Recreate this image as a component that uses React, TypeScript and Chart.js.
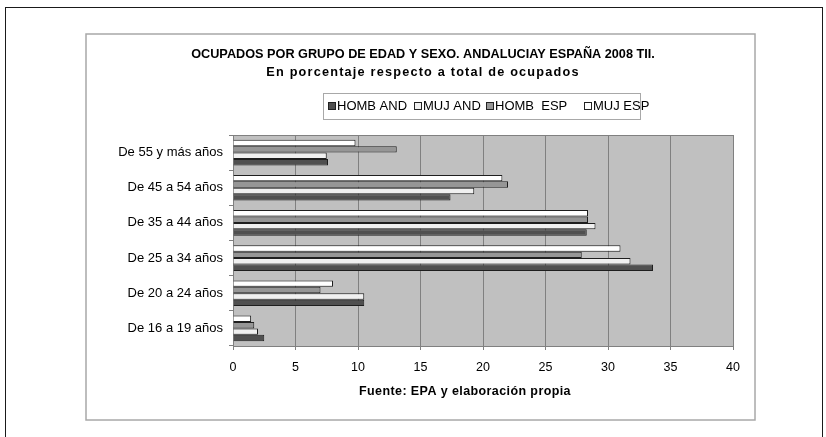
import React, { useEffect, useRef } from "react";
import { Chart, registerables } from "chart.js";

Chart.register(...registerables);

// Categories, top to bottom as displayed
const categories = [
  "De 55 y más años",
  "De 45 a 54 años",
  "De 35 a 44 años",
  "De 25 a 34 años",
  "De 20 a 24 años",
  "De 16 a 19 años",
];

const hombAnd = [7.6, 17.4, 28.3, 33.6, 10.5, 2.5];
const mujAnd = [7.5, 19.3, 29.0, 31.8, 10.5, 2.0];
const hombEsp = [13.1, 22.0, 28.4, 27.9, 7.0, 1.7];
const mujEsp = [9.8, 21.55, 28.4, 31.0, 8.0, 1.45];

const seriesLabels = ["HOMB AND", "MUJ AND", "HOMB  ESP", "MUJ ESP"];
const seriesColors = ["#505050", "#f0f0f0", "#969696", "#ffffff"];

const titleLine1 = "OCUPADOS POR GRUPO DE EDAD Y SEXO. ANDALUCIAY ESPAÑA 2008 TII.";
const titleLine2 = "En porcentaje respecto a total de ocupados";
const sourceText = "Fuente: EPA y elaboración propia";

const FONT = "'Liberation Sans', Arial, sans-serif";

export default function App() {
  const ref = useRef<HTMLCanvasElement | null>(null);

  useEffect(() => {
    const canvas = ref.current;
    if (!canvas) return;

    const framePlugin = {
      id: "frame",
      beforeDraw(chart: any) {
        const ctx = chart.ctx;
        const a = chart.chartArea;
        ctx.save();
        ctx.fillStyle = "#ffffff";
        ctx.fillRect(0, 0, chart.width, chart.height);
        // outer frame
        ctx.strokeStyle = "#1a1a1a";
        ctx.lineWidth = 1;
        ctx.strokeRect(5.5, 7.5, 817, 440);
        // inner chart box
        ctx.strokeStyle = "#a8a8a8";
        ctx.lineWidth = 1.5;
        ctx.strokeRect(86, 34, 669, 386);
        // plot background
        ctx.fillStyle = "#c0c0c0";
        ctx.fillRect(a.left, a.top, a.right - a.left, a.bottom - a.top);
        ctx.restore();
      },
      afterDraw(chart: any) {
        const ctx = chart.ctx;
        const a = chart.chartArea;
        ctx.save();
        // plot top border
        ctx.strokeStyle = "#808080";
        ctx.lineWidth = 1;
        ctx.beginPath();
        ctx.moveTo(a.left, a.top + 0.5);
        ctx.lineTo(a.right, a.top + 0.5);
        ctx.stroke();

        // titles
        ctx.fillStyle = "#000";
        ctx.textAlign = "center";
        ctx.textBaseline = "middle";
        ctx.font = `bold 12.7px ${FONT}`;
        ctx.fillText(titleLine1, 423, 54);
        ctx.font = `bold 12.7px ${FONT}`;
        (ctx as any).letterSpacing = "1.2px";
        ctx.fillText(titleLine2, 423, 72);
        (ctx as any).letterSpacing = "0px";

        // legend
        ctx.strokeStyle = "#a8a8a8";
        ctx.lineWidth = 1;
        ctx.strokeRect(323.5, 93.5, 317, 26);
        const lx = [328, 414, 486, 584];
        ctx.font = `13px ${FONT}`;
        ctx.textAlign = "left";
        for (let i = 0; i < seriesLabels.length; i++) {
          ctx.fillStyle = seriesColors[i];
          ctx.fillRect(lx[i] + 0.5, 102.5, 7, 7);
          ctx.strokeStyle = "#222";
          ctx.strokeRect(lx[i] + 0.5, 102.5, 7, 7);
          ctx.fillStyle = "#000";
          ctx.fillText(seriesLabels[i], lx[i] + 9, 106.5);
        }

        // source
        ctx.textAlign = "center";
        ctx.font = `bold 12.5px ${FONT}`;
        (ctx as any).letterSpacing = "0.4px";
        ctx.fillText(sourceText, 465, 392);
        (ctx as any).letterSpacing = "0px";
        ctx.restore();
      },
    };

    // datasets ordered top-to-bottom within each group
    const order = [3, 2, 1, 0];
    const values = [hombAnd, mujAnd, hombEsp, mujEsp];
    const datasets = order.map((i) => ({
      label: seriesLabels[i],
      data: values[i],
      backgroundColor: seriesColors[i],
      borderColor: "#1e1e1e",
      borderWidth: 1,
      categoryPercentage: 0.73,
      barPercentage: 1.0,
    }));

    const chart = new Chart(canvas, {
      type: "bar",
      data: { labels: categories, datasets },
      options: {
        indexAxis: "y",
        responsive: false,
        animation: false,
        devicePixelRatio: 1,
        layout: { padding: { top: 135, right: 93, left: 0, bottom: 0 } },
        plugins: {
          legend: { display: false },
          title: { display: false },
          tooltip: { enabled: false },
        },
        scales: {
          x: {
            min: 0,
            max: 40,
            ticks: {
              stepSize: 5,
              color: "#000",
              font: { family: FONT, size: 12.5 },
              padding: 10,
            },
            grid: {
              color: "#808080",
              tickColor: "#808080",
              tickLength: 4,
            },
            border: { color: "#808080" },
            afterFit: (s: any) => {
              s.height = 91;
            },
          },
          y: {
            ticks: {
              color: "#000",
              font: { family: FONT, size: 13 },
              padding: 6,
            },
            grid: {
              drawOnChartArea: false,
              tickColor: "#808080",
              tickLength: 4,
              offset: true,
            },
            border: { color: "#808080" },
            afterFit: (s: any) => {
              s.width = 233;
            },
          },
        },
      },
      plugins: [framePlugin],
    });

    return () => chart.destroy();
  }, []);

  return (
    <div style={{ position: "fixed", left: 0, top: 0, width: 826, height: 437, background: "#fff" }}>
      <canvas ref={ref} width={826} height={437} style={{ width: 826, height: 437, display: "block" }} />
    </div>
  );
}
